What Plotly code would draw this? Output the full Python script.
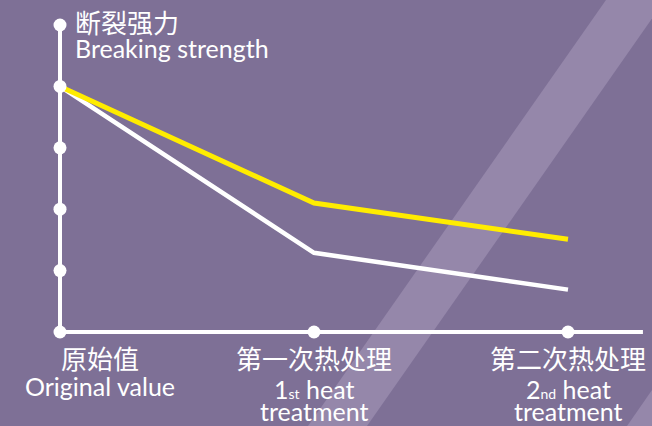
import plotly.graph_objects as go

# ---- data ----
stages = [0, 1, 2]
stage_cn = ["原始值", "第一次热处理", "第二次热处理"]
stage_en_1 = ["Original value",
              "1<span style='font-size:14px'>st</span> heat",
              "2<span style='font-size:14px'>nd</span> heat"]
stage_en_2 = ["", "treatment", "treatment"]
yellow_vals = [4.0, 2.10, 1.51]
white_vals = [4.0, 1.29, 0.69]
y_ticks = [0, 1, 2, 3, 4, 5]
y_title_cn = "断裂强力"
y_title_en = "Breaking strength"

# ---- style ----
BG = "#7E7096"
BAND = "#9587AA"
YELLOW = "#FFEC00"
WHITE = "#FFFFFF"
W, H = 652, 426
X_RANGE = [-60 / 254, -60 / 254 + W / 254]
Y_RANGE = [-(H - 332) / 61.4, 332 / 61.4]
X_END = 2.295
EN_FONT = "Lato, 'Open Sans', sans-serif"
CN_FONT = "'Noto Sans CJK SC', sans-serif"
EN_SIZE = 25
CN_SIZE = 26

fig = go.Figure()

# axes lines
fig.add_trace(go.Scatter(x=[0, 0, X_END], y=[max(y_ticks), 0, 0], mode="lines",
                         line=dict(color=WHITE, width=4), hoverinfo="skip", showlegend=False))
# data lines
fig.add_trace(go.Scatter(x=stages, y=white_vals, mode="lines",
                         line=dict(color=WHITE, width=4.5), name="white", showlegend=False))
fig.add_trace(go.Scatter(x=stages, y=yellow_vals, mode="lines",
                         line=dict(color=YELLOW, width=5), name="yellow", showlegend=False))
# dots on axes
fig.add_trace(go.Scatter(x=[0] * len(y_ticks) + stages[1:], y=y_ticks + [0] * (len(stages) - 1),
                         mode="markers", marker=dict(color=WHITE, size=13),
                         hoverinfo="skip", showlegend=False))

def py(p):
    return 1 - p / H

ann = []
ann.append(dict(x=0, y=py(21.5), xref="x", yref="paper", text=y_title_cn, showarrow=False,
                xanchor="left", yanchor="middle", xshift=13,
                font=dict(family=CN_FONT, size=CN_SIZE, color=WHITE)))
ann.append(dict(x=0, y=py(48), xref="x", yref="paper", text=y_title_en, showarrow=False,
                xanchor="left", yanchor="middle", xshift=13,
                font=dict(family=EN_FONT, size=EN_SIZE, color=WHITE)))
for i, s in enumerate(stages):
    shift = 40 if i == 0 else 0
    ann.append(dict(x=s, y=py(357.5), xref="x", yref="paper", text=stage_cn[i], showarrow=False,
                    xanchor="center", yanchor="middle", xshift=shift,
                    font=dict(family=CN_FONT, size=CN_SIZE, color=WHITE)))
    ann.append(dict(x=s, y=py(386 if i == 0 else 389), xref="x", yref="paper", text=stage_en_1[i],
                    showarrow=False, xanchor="center", yanchor="middle", xshift=shift,
                    font=dict(family=EN_FONT, size=EN_SIZE, color=WHITE)))
    if stage_en_2[i]:
        ann.append(dict(x=s, y=py(411), xref="x", yref="paper", text=stage_en_2[i],
                        showarrow=False, xanchor="center", yanchor="middle", xshift=shift,
                        font=dict(family=EN_FONT, size=EN_SIZE, color=WHITE)))

def pp(xp, yp):
    return f"{xp / W:.4f},{1 - yp / H:.4f}"

shapes = [
    dict(type="path", xref="paper", yref="paper", layer="below", line=dict(width=0),
         fillcolor=BAND,
         path=f"M {pp(606, 0)} L {pp(665, 0)} L {pp(367, 426)} L {pp(308, 426)} Z"),
    dict(type="path", xref="paper", yref="paper", layer="below", line=dict(width=0),
         fillcolor=BAND,
         path=f"M {pp(627, 426)} L {pp(652, 390)} L {pp(700, 390)} L {pp(700, 426)} Z"),
]

fig.update_layout(
    width=W, height=H,
    margin=dict(l=0, r=0, t=0, b=0),
    paper_bgcolor=BG, plot_bgcolor=BG,
    xaxis=dict(range=X_RANGE, visible=False, fixedrange=True),
    yaxis=dict(range=Y_RANGE, visible=False, fixedrange=True),
    annotations=ann, shapes=shapes, showlegend=False,
)

fig.write_html("out.html", config={"displayModeBar": False},
               post_script="document.body.style.margin='0';document.body.style.overflow='hidden';")
